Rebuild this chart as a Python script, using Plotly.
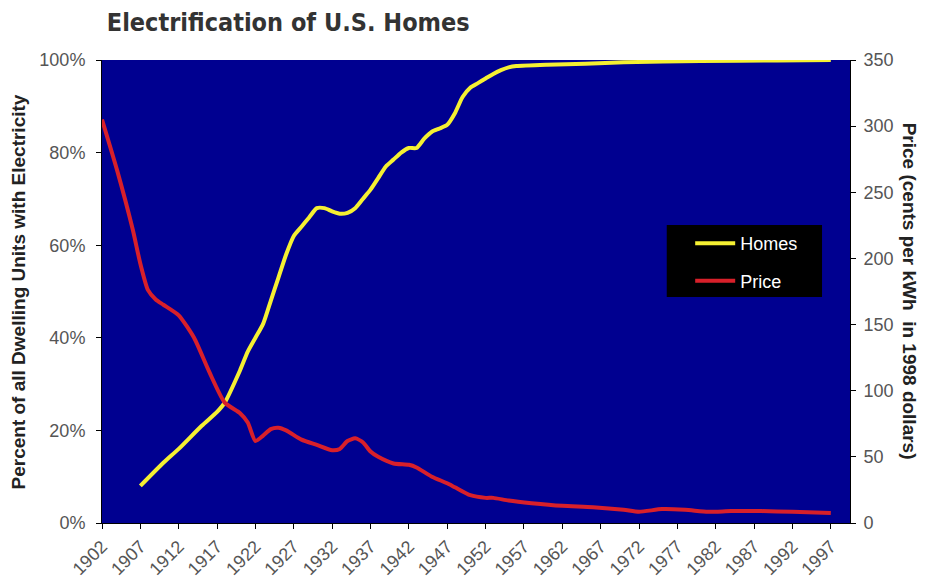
import plotly.graph_objects as go

# share of U.S. dwelling units with electricity (%)
homes_years = [1907, 1910, 1912, 1915, 1917, 1918, 1920, 1921, 1922, 1923, 1924,
               1925, 1926, 1927, 1928, 1929, 1930, 1931, 1932, 1933, 1934, 1935,
               1936, 1937, 1938, 1939, 1940, 1941, 1942, 1943, 1944, 1945, 1946,
               1947, 1948, 1949, 1950, 1951, 1952, 1953, 1954, 1955, 1956, 1960,
               1965, 1970, 1980, 1990, 1997]
homes_pct = [8, 13, 16, 21, 24, 26, 33, 37, 40, 43, 48,
             53, 58, 62, 64, 66, 68, 68, 67.3, 66.8, 67, 68,
             70, 72, 74.5, 77, 78.5, 80, 81, 81, 83, 84.5, 85.2,
             86, 88.5, 92, 94, 95, 96, 97, 97.8, 98.4, 98.7, 99,
             99.2, 99.5, 99.8, 99.9, 100]

# price, cents per kWh in 1998 dollars
price_years = [1902, 1904, 1906, 1907, 1908, 1909, 1910, 1912, 1914, 1916, 1918,
               1920, 1921, 1922, 1923, 1924, 1925, 1926, 1928, 1930, 1932, 1933,
               1934, 1935, 1936, 1937, 1938, 1940, 1942, 1943, 1945, 1947, 1948,
               1950, 1952, 1953, 1955, 1958, 1962, 1966, 1970, 1972, 1975, 1978,
               1981, 1984, 1988, 1992, 1997]
price_cents = [305, 266, 222, 196, 176, 169, 165, 157, 140, 114, 91,
               83, 76, 62, 66, 71, 72, 70, 63, 59, 55, 56,
               62, 64, 61, 54, 50, 45, 44, 42, 35, 30, 27,
               21, 19, 19, 17, 15, 13, 12, 10, 8.5, 10.5, 10,
               8.5, 9, 9, 8.5, 7.5]

year_ticks = list(range(1902, 1998, 5))

fig = go.Figure()
fig.add_trace(go.Scatter(
    x=homes_years, y=homes_pct, name='Homes', mode='lines', legendgroup='homes',
    line=dict(color='#f5f032', width=4, shape='spline', smoothing=0.6),
))
fig.add_trace(go.Scatter(
    x=price_years, y=price_cents, name='Price', mode='lines', yaxis='y2',
    legendgroup='price',
    line=dict(color='#d8202a', width=4, shape='spline', smoothing=0.6),
))

tick_font = dict(family='Liberation Sans, Arial, sans-serif', size=18, color='#555555')
title_font = dict(family='Liberation Sans, Arial, sans-serif', size=19, color='#222222')

# page body has an 8px margin, so the figure is a bit smaller than the window
fig.update_layout(
    width=917, height=578,
    margin=dict(l=94, r=75, t=52, b=63),
    paper_bgcolor='white',
    plot_bgcolor='#000090',
    title=dict(
        text='<b>Electrification of U.S. Homes</b>',
        x=0.249, xref='paper', xanchor='center',
        y=0.976, yref='container', yanchor='middle',
        font=dict(family='Liberation Sans Narrow, DejaVu Sans Condensed, sans-serif',
                  size=25, color='#333333'),
    ),
    xaxis=dict(
        range=[1902, 1999.5], tickvals=year_ticks, tickangle=-45,
        showgrid=False, zeroline=False, ticks='outside', ticklen=5,
        tickcolor='black', showline=True, linecolor='black', linewidth=1,
        tickfont=tick_font, automargin=False,
    ),
    yaxis=dict(
        range=[0, 100], dtick=20, ticksuffix='%', showgrid=False, zeroline=False,
        ticks='outside', ticklen=5, tickcolor='black', showline=True,
        linecolor='black', linewidth=1, tickfont=tick_font, automargin=False,
        ticklabelstandoff=7,
    ),
    yaxis2=dict(
        range=[0, 350], dtick=50, overlaying='y', side='right', showgrid=False,
        zeroline=False, ticks='outside', ticklen=5, tickcolor='black',
        showline=True, linecolor='black', linewidth=1, tickfont=tick_font,
        automargin=False, ticklabelstandoff=4,
    ),
    legend=dict(
        x=0.781, y=0.652, xanchor='left', yanchor='top',
        bgcolor='rgba(0,0,0,0)', borderwidth=4, bordercolor='rgba(0,0,0,0)',
        font=dict(family='Liberation Sans, Arial, sans-serif', size=18, color='white'),
        itemwidth=40, tracegroupgap=11,
    ),
    # black legend box
    shapes=[dict(type='rect', xref='paper', yref='paper',
                 x0=0.755, x1=0.9626, y0=0.488, y1=0.6436,
                 fillcolor='black', line=dict(width=0), layer='above')],
    annotations=[
        dict(text='<b>Percent of all Dwelling Units with Electricity</b>',
             x=-0.111, y=0.5, xref='paper', yref='paper', textangle=-90,
             xanchor='center', showarrow=False, font=title_font),
        dict(text='<b>Price (cents per kWh  in 1998 dollars)</b>',
             x=1.080, y=0.5, xref='paper', yref='paper', textangle=90,
             xanchor='center', showarrow=False, font=title_font),
    ],
)

fig.write_html("out.html")
